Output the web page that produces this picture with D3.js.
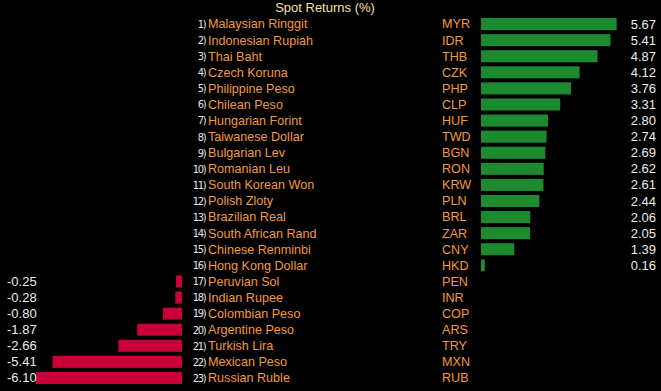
<!DOCTYPE html>
<meta charset="utf-8">
<style>
body { margin: 0; background: #000; }
text { font-family: "Liberation Sans", Arial, sans-serif; }
.rank { fill: #e4e4ee; font-size: 11px; letter-spacing: -1.2px; font-family: "DejaVu Sans Condensed", sans-serif; }
.name, .code { fill: #f39a3c; font-size: 12.6px; }
.val { fill: #ececec; font-size: 13px; }
.title { fill: #f2e2a4; font-size: 13px; }
</style>
<body>
<script src="https://d3js.org/d3.v7.min.js"></script>
<script>

// data
var names = ["Malaysian Ringgit", "Indonesian Rupiah", "Thai Baht", "Czech Koruna",
  "Philippine Peso", "Chilean Peso", "Hungarian Forint", "Taiwanese Dollar",
  "Bulgarian Lev", "Romanian Leu", "South Korean Won", "Polish Zloty",
  "Brazilian Real", "South African Rand", "Chinese Renminbi", "Hong Kong Dollar",
  "Peruvian Sol", "Indian Rupee", "Colombian Peso", "Argentine Peso",
  "Turkish Lira", "Mexican Peso", "Russian Ruble"];
var codes = ["MYR", "IDR", "THB", "CZK", "PHP", "CLP", "HUF", "TWD", "BGN", "RON",
  "KRW", "PLN", "BRL", "ZAR", "CNY", "HKD", "PEN", "INR", "COP", "ARS", "TRY", "MXN", "RUB"];
var values = [5.67, 5.41, 4.87, 4.12, 3.76, 3.31, 2.80, 2.74, 2.69, 2.62, 2.61, 2.44,
  2.06, 2.05, 1.39, 0.16, -0.25, -0.28, -0.80, -1.87, -2.66, -5.41, -6.10];

var width = 661, height = 391;

var data = codes.map(function(c, i) {
  return {rank: i + 1, name: names[i], code: c, value: values[i]};
});

var svg = d3.select("body").append("svg")
  .attr("width", width)
  .attr("height", height);

// rows
var y = d3.scaleBand()
  .domain(codes)
  .range([14, 388])
  .padding(0.25);

// same px per unit on both sides
var xPos = d3.scaleLinear().domain([0, 5.67]).range([481, 616.7]);
var xNeg = d3.scaleLinear().domain([-6.10, 0]).range([36, 182]);

var pos = data.filter(function(d) { return d.value >= 0; });
var neg = data.filter(function(d) { return d.value < 0; });

svg.append("text")
  .attr("class", "title")
  .attr("x", 325)
  .attr("y", 7)
  .attr("dy", "0.35em")
  .attr("text-anchor", "middle")
  .text("Spot Returns (%)");

// green bars
svg.selectAll(".pbar")
  .data(pos)
  .enter().append("rect")
  .attr("x", xPos(0))
  .attr("y", function(d) { return y(d.code); })
  .attr("width", function(d) { return xPos(d.value) - xPos(0); })
  .attr("height", y.bandwidth())
  .attr("fill", "#1d8a30");

// red bars
svg.selectAll(".nbar")
  .data(neg)
  .enter().append("rect")
  .attr("x", function(d) { return xNeg(d.value); })
  .attr("y", function(d) { return y(d.code); })
  .attr("width", function(d) { return xNeg(0) - xNeg(d.value); })
  .attr("height", y.bandwidth())
  .attr("fill", "#c8003a");

var mid = function(d) { return y(d.code) + y.bandwidth() / 2; };

svg.selectAll(".rank")
  .data(data)
  .enter().append("text")
  .attr("class", "rank")
  .attr("x", 205.5)
  .attr("y", mid)
  .attr("dy", "0.35em")
  .attr("text-anchor", "end")
  .text(function(d) { return d.rank + ")"; });

svg.selectAll(".name")
  .data(data)
  .enter().append("text")
  .attr("class", "name")
  .attr("x", 208)
  .attr("y", mid)
  .attr("dy", "0.35em")
  .text(function(d) { return d.name; });

svg.selectAll(".code")
  .data(data)
  .enter().append("text")
  .attr("class", "code")
  .attr("x", 442)
  .attr("y", mid)
  .attr("dy", "0.35em")
  .text(function(d) { return d.code; });

svg.selectAll(".pval")
  .data(pos)
  .enter().append("text")
  .attr("class", "val")
  .attr("x", 656)
  .attr("y", mid)
  .attr("dy", "0.35em")
  .attr("text-anchor", "end")
  .text(function(d) { return d3.format(".2f")(d.value); });

svg.selectAll(".nval")
  .data(neg)
  .enter().append("text")
  .attr("class", "val")
  .attr("x", 7)
  .attr("y", mid)
  .attr("dy", "0.35em")
  .text(function(d) { return d3.format(".2f")(d.value).replace("−", "-"); });

</script>
</body>
